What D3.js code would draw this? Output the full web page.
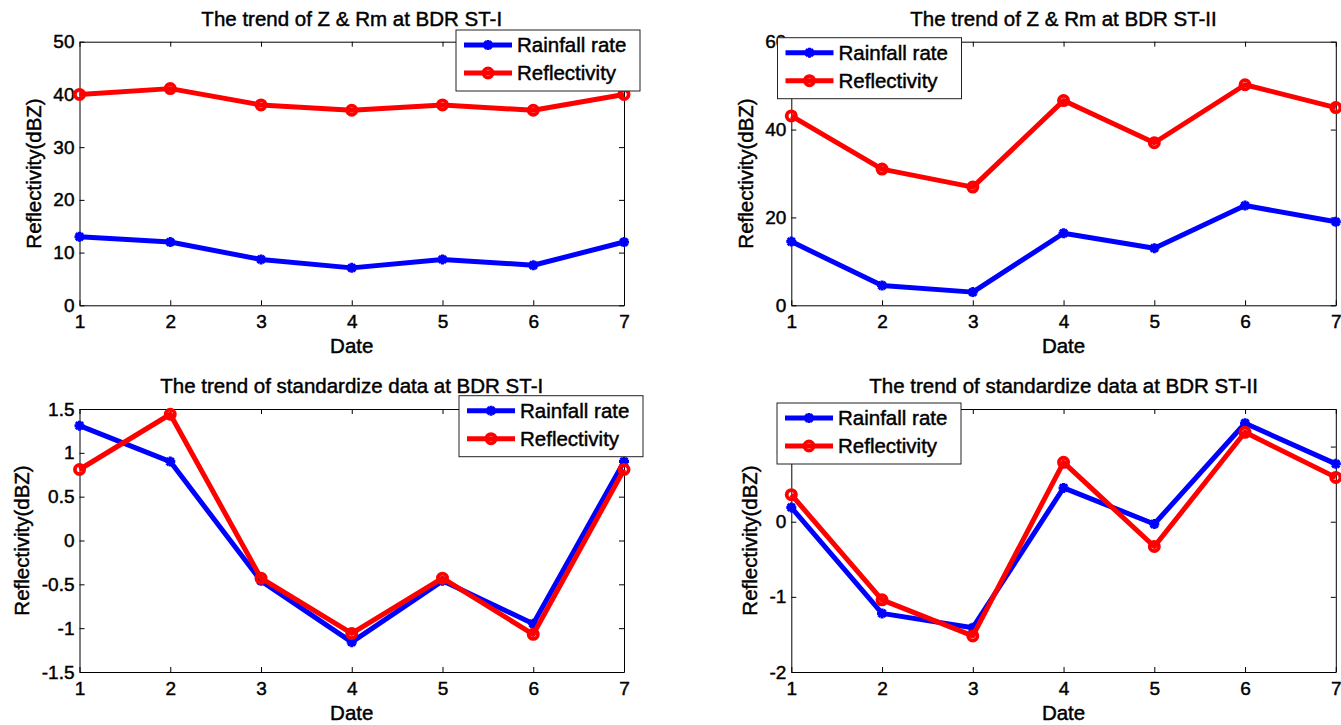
<!DOCTYPE html>
<html>
<head>
<meta charset="utf-8">
<script src="https://cdn.jsdelivr.net/npm/d3@7.9.0/dist/d3.min.js"></script>
<style>
  body { margin: 0; background: #fff; }
  svg { display: block; font-family: "Liberation Sans", Arial, sans-serif; }
  svg text { stroke: #000; stroke-width: 0.45px; fill: #000; }
</style>
</head>
<body>
<svg id="chart" width="1341" height="725"></svg>
<script>
// values
const dates = [1, 2, 3, 4, 5, 6, 7];

const rainST1 = [13.0, 12.0, 8.7, 7.1, 8.7, 7.6, 12.0];
const reflST1 = [40.0, 41.1, 38.0, 37.0, 38.0, 37.0, 40.0];
const rainST2 = [14.5, 4.5, 3.0, 16.4, 13.0, 22.7, 19.0];
const reflST2 = [43.1, 31.0, 26.9, 46.6, 37.0, 50.2, 45.0];

const rainStd1 = [1.31, 0.90, -0.46, -1.16, -0.46, -0.95, 0.90];
const reflStd1 = [0.81, 1.44, -0.43, -1.06, -0.43, -1.07, 0.81];
const rainStd2 = [0.19, -1.22, -1.41, 0.45, -0.03, 1.31, 0.77];
const reflStd2 = [0.36, -1.04, -1.52, 0.79, -0.33, 1.19, 0.59];

const titles = [
  'The trend of Z & Rm at BDR ST-I',
  'The trend of Z & Rm at BDR ST-II',
  'The trend of standardize data at BDR ST-I',
  'The trend of standardize data at BDR ST-II'
];
const yDomains = [[0, 50], [0, 60], [-1.5, 1.5], [-2, 1.5]];
const yTicks = [
  [0, 10, 20, 30, 40, 50],
  [0, 20, 40, 60],
  [-1.5, -1, -0.5, 0, 0.5, 1, 1.5],
  [-2, -1, 0, 1]
];
const seriesNames = ['Rainfall rate', 'Reflectivity'];

// layout of the four axes boxes
const panels = [
  { left: 79.5, right: 624, top: 41.7, bottom: 305.3, ylab: 39, legX: 456, legY: 30, rain: rainST1, refl: reflST1 },
  { left: 791.3, right: 1335.8, top: 41.7, bottom: 305.3, ylab: 38, legX: 777.5, legY: 37.7, rain: rainST2, refl: reflST2 },
  { left: 79.5, right: 624, top: 409, bottom: 672, ylab: 51, legX: 459, legY: 395.7, rain: rainStd1, refl: reflStd1 },
  { left: 791.3, right: 1335.8, top: 409, bottom: 672, ylab: 34, legX: 777, legY: 403, rain: rainStd2, refl: reflStd2 }
];

const BLUE = '#0000ff', RED = '#ff0000';
const svg = d3.select('#chart');

function starPath(s) {
  const d = s * 0.72;
  return `M${-s},0L${s},0M0,${-s}L0,${s}M${-d},${-d}L${d},${d}M${-d},${d}L${d},${-d}`;
}

function drawStar(g, cx, cy) {
  g.append('path')
    .attr('transform', `translate(${cx},${cy})`)
    .attr('d', starPath(5))
    .attr('fill', 'none')
    .attr('stroke', BLUE)
    .attr('stroke-width', 3);
}

function drawCircle(g, cx, cy) {
  g.append('circle')
    .attr('cx', cx).attr('cy', cy).attr('r', 4.6)
    .attr('fill', 'none')
    .attr('stroke', RED)
    .attr('stroke-width', 3.8);
}

panels.forEach((p, i) => {
  const g = svg.append('g');
  const x = d3.scaleLinear().domain([1, 7]).range([p.left, p.right]);
  const y = d3.scaleLinear().domain(yDomains[i]).range([p.bottom, p.top]);
  const fmt = d => String(d);

  // box + inward ticks on all four sides
  g.append('g').attr('transform', `translate(0,${p.bottom})`)
    .call(d3.axisBottom(x).tickValues(dates).tickSizeInner(-5).tickSizeOuter(0).tickPadding(9.5).tickFormat(fmt));
  g.append('g').attr('transform', `translate(0,${p.top})`)
    .call(d3.axisTop(x).tickValues(dates).tickSizeInner(-5).tickSizeOuter(0).tickFormat(''));
  g.append('g').attr('transform', `translate(${p.left},0)`)
    .call(d3.axisLeft(y).tickValues(yTicks[i]).tickSizeInner(-5).tickSizeOuter(0).tickPadding(5).tickFormat(fmt));
  g.append('g').attr('transform', `translate(${p.right},0)`)
    .call(d3.axisRight(y).tickValues(yTicks[i]).tickSizeInner(-5).tickSizeOuter(0).tickFormat(''));

  g.selectAll('.domain').attr('stroke', '#000').attr('stroke-width', 1);
  g.selectAll('.tick line').attr('stroke', '#000');
  g.selectAll('.tick text').attr('font-size', 19).attr('fill', '#000')
    .attr('font-family', '"Liberation Sans", Arial, sans-serif');

  // titles and axis labels
  g.append('text')
    .attr('x', (p.left + p.right) / 2).attr('y', p.top - 16)
    .attr('text-anchor', 'middle').attr('font-size', 20.5)
    .text(titles[i]);
  g.append('text')
    .attr('x', (p.left + p.right) / 2).attr('y', p.bottom + 48)
    .attr('text-anchor', 'middle').attr('font-size', 20.5)
    .text('Date');
  g.append('text')
    .attr('transform', `translate(${p.left - p.ylab},${(p.top + p.bottom) / 2}) rotate(-90)`)
    .attr('text-anchor', 'middle').attr('font-size', 20.5)
    .text('Reflectivity(dBZ)');

  // series
  const line = d3.line().x((d, k) => x(dates[k])).y(d => y(d));
  g.append('path').datum(p.rain).attr('d', line)
    .attr('fill', 'none').attr('stroke', BLUE).attr('stroke-width', 5)
    .attr('stroke-linejoin', 'round');
  p.rain.forEach((v, k) => drawStar(g, x(dates[k]), y(v)));

  g.append('path').datum(p.refl).attr('d', line)
    .attr('fill', 'none').attr('stroke', RED).attr('stroke-width', 5)
    .attr('stroke-linejoin', 'round');
  p.refl.forEach((v, k) => drawCircle(g, x(dates[k]), y(v)));

  // legend
  const lg = g.append('g').attr('transform', `translate(${p.legX},${p.legY})`);
  lg.append('rect').attr('x', 0).attr('y', 0).attr('width', 184).attr('height', 61)
    .attr('fill', '#fff').attr('stroke', '#222').attr('stroke-width', 1);
  seriesNames.forEach((name, k) => {
    const ly = 15 + k * 28;
    lg.append('line').attr('x1', 8).attr('x2', 56).attr('y1', ly).attr('y2', ly)
      .attr('stroke', k === 0 ? BLUE : RED).attr('stroke-width', 5);
    if (k === 0) drawStar(lg, 32, ly); else drawCircle(lg, 32, ly);
    lg.append('text').attr('x', 61).attr('y', ly + 7.3)
      .attr('font-size', 20.5).text(name);
  });
});
</script>
</body>
</html>
